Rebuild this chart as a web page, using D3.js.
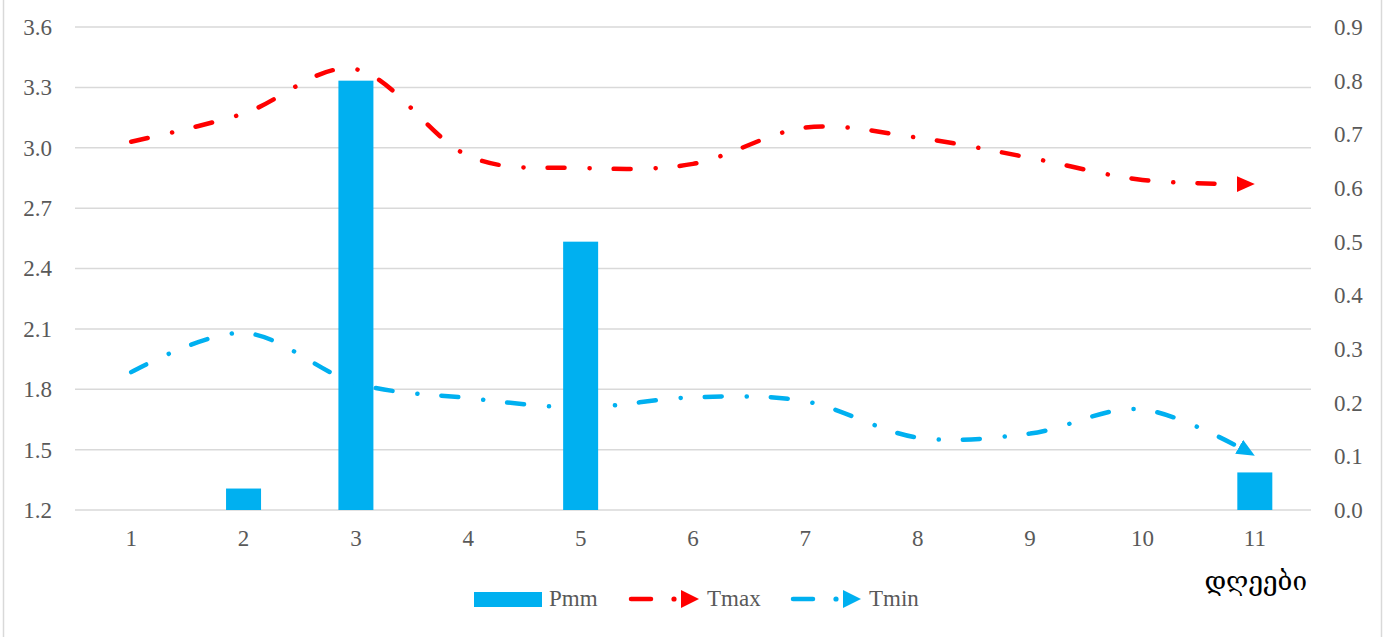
<!DOCTYPE html>
<html><head><meta charset="utf-8">
<script src="https://cdn.jsdelivr.net/npm/d3@7/dist/d3.min.js"></script>
<style>
body{margin:0;background:#fff;}
svg{display:block;}
text{font-family:"Liberation Serif","DejaVu Serif",serif;}
</style></head>
<body>
<svg id="chart" width="1388" height="637"></svg>
<script>
const days = ["1","2","3","4","5","6","7","8","9","10","11"];
const pmm  = [0, 0.04, 0.80, 0, 0.50, 0, 0, 0, 0, 0, 0.07];
const tmax = [3.03, 3.17, 3.39, 2.96, 2.90, 2.92, 3.10, 3.05, 2.95, 2.84, 2.82];
const tmin = [1.885, 2.08, 1.83, 1.756, 1.71, 1.76, 1.74, 1.56, 1.58, 1.70, 1.47];
const leftTicks  = [1.2, 1.5, 1.8, 2.1, 2.4, 2.7, 3.0, 3.3, 3.6];
const rightTicks = [0, 0.1, 0.2, 0.3, 0.4, 0.5, 0.6, 0.7, 0.8, 0.9];
const xTitle = "დღეები";

const svg = d3.select("#chart");
const L = 75, R = 1311, T = 27, B = 510;
const blue = "#00B0F0", red = "#FF0000", grid = "#d9d9d9", tcol = "#595959";
const fs = "23px";

// outer frame
svg.append("line").attr("x1",3.5).attr("x2",3.5).attr("y1",0).attr("y2",637).attr("stroke",grid).attr("stroke-width",1.5);
svg.append("line").attr("x1",1381.5).attr("x2",1381.5).attr("y1",0).attr("y2",637).attr("stroke",grid).attr("stroke-width",1.5);

const x = d3.scaleBand().domain(days).range([L, R]);
const yL = d3.scaleLinear().domain([1.2, 3.6]).range([B, T]);
const yR = d3.scaleLinear().domain([0, 0.9]).range([B, T]);

// gridlines
svg.append("g").selectAll("line").data(leftTicks).join("line")
  .attr("x1", L).attr("x2", R)
  .attr("y1", d => yL(d)).attr("y2", d => yL(d))
  .attr("stroke", grid).attr("stroke-width", 1.5);

// left axis
const axL = svg.append("g").attr("transform", `translate(${L},0)`)
  .call(d3.axisLeft(yL).tickValues(leftTicks).tickFormat(d3.format(".1f")).tickSize(0).tickPadding(23));
axL.select(".domain").remove();
axL.selectAll("text").attr("fill", tcol).style("font-size",fs).style("font-family","Liberation Serif, serif");

// right axis
const axR = svg.append("g").attr("transform", `translate(${R},0)`)
  .call(d3.axisRight(yR).tickValues(rightTicks).tickFormat(d3.format(".1f")).tickSize(0).tickPadding(23));
axR.select(".domain").remove();
axR.selectAll("text").attr("fill", tcol).style("font-size",fs).style("font-family","Liberation Serif, serif");

// x axis
const axX = svg.append("g").attr("transform", `translate(0,${B})`)
  .call(d3.axisBottom(x).tickSize(0).tickPadding(20));
axX.select(".domain").remove();
axX.selectAll("text").attr("fill", tcol).style("font-size",fs).style("font-family","Liberation Serif, serif");

// bars
const bw = 35;
svg.append("g").selectAll("rect").data(pmm).join("rect")
  .attr("x", (d,i) => x(days[i]) + x.bandwidth()/2 - bw/2)
  .attr("width", bw)
  .attr("y", d => yR(d))
  .attr("height", d => B - yR(d))
  .attr("fill", blue);

// markers
const defs = svg.append("defs");
function marker(id, col){
  defs.append("marker").attr("id", id)
    .attr("markerUnits","userSpaceOnUse")
    .attr("viewBox","0 0 18 16").attr("refX",18).attr("refY",8)
    .attr("markerWidth",18).attr("markerHeight",16)
    .attr("orient","auto")
    .append("path").attr("d","M0,0 L18,8 L0,16 Z").attr("fill",col);
}
marker("arrRed", red); marker("arrBlue", blue);

const cx = i => x(days[i]) + x.bandwidth()/2;
const lineL = d3.line().x((d,i) => cx(i)).y(d => yL(d)).curve(d3.curveCatmullRom.alpha(0));
const dash = "17 25 0.1 24";

svg.append("path").datum(tmin).attr("d", lineL)
  .attr("fill","none").attr("stroke",blue).attr("stroke-width",4.5)
  .attr("stroke-linecap","round").attr("stroke-dasharray",dash)
  .attr("marker-end","url(#arrBlue)");
svg.append("path").datum(tmax).attr("d", lineL)
  .attr("fill","none").attr("stroke",red).attr("stroke-width",4.5)
  .attr("stroke-linecap","round").attr("stroke-dasharray",dash)
  .attr("marker-end","url(#arrRed)");

// x title
svg.append("text").attr("x",1307).attr("y",590).attr("text-anchor","end")
  .attr("fill","#000").style("font-size","26px").style("font-family","DejaVu Serif, serif").text(xTitle);

// legend
const lg = svg.append("g");
const ly = 599;
lg.append("rect").attr("x",474).attr("y",592).attr("width",68).attr("height",15).attr("fill",blue);
lg.append("text").attr("x",549).attr("y",606).attr("fill",tcol).style("font-size",fs).text("Pmm");
function legLine(x0, col, label){
  lg.append("line").attr("x1",x0+2).attr("x2",x0+22).attr("y1",ly).attr("y2",ly)
    .attr("stroke",col).attr("stroke-width",4.5).attr("stroke-linecap","round");
  lg.append("circle").attr("cx",x0+45).attr("cy",ly).attr("r",2.6).attr("fill",col);
  lg.append("path").attr("d",`M${x0+52},${ly-9} L${x0+70},${ly} L${x0+52},${ly+9} Z`).attr("fill",col);
  lg.append("text").attr("x",x0+78).attr("y",606).attr("fill",tcol).style("font-size",fs).text(label);
}
legLine(629, red, "Tmax");
legLine(791, blue, "Tmin");
</script>
</body></html>
